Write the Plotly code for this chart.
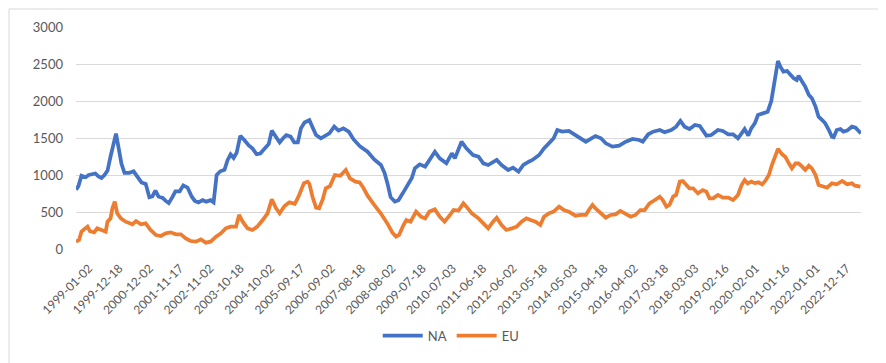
import numpy as np
import pandas as pd
import plotly.graph_objects as go

START = "1999-01-02"

# Week offsets (from 1999-01-02) and values
na_weeks = [0, 4, 9, 16, 21, 27, 32, 37, 42, 47, 52, 57, 62, 66, 70, 75, 80, 88, 95, 101,
            108, 115, 121, 126, 131, 136, 143, 148, 153, 159, 164, 171, 177, 184, 191, 196, 202, 209, 215, 222,
            227, 232, 238, 245, 250, 255, 260, 265, 271, 278, 285, 291, 298, 304, 311, 318, 323, 329, 336, 342,
            347, 354, 360, 366, 371, 377, 385, 390, 396, 404, 410, 418, 426, 433, 441, 450, 458, 469, 481, 492,
            503, 509, 514, 519, 526, 532, 539, 547, 554, 559, 567, 576, 584, 592, 600, 611, 620, 625, 636, 644,
            655, 664, 672, 680, 694, 702, 713, 721, 730, 738, 747, 753, 764, 772, 780, 788, 794, 802, 813, 824,
            833, 841, 849, 857, 866, 874, 885, 896, 907, 918, 929, 935, 944, 952, 963, 971, 982, 990, 997, 1004,
            1012, 1021, 1029, 1040, 1048, 1059, 1067, 1076, 1084, 1092, 1098, 1103, 1109, 1114, 1120, 1125, 1133, 1141, 1147, 1152,
            1155, 1158, 1162, 1167, 1173, 1179, 1184, 1189, 1192, 1198, 1203, 1209, 1214, 1220, 1225, 1231, 1236, 1242, 1247, 1250,
            1255, 1261, 1266, 1272, 1280, 1286, 1291, 1295]
na_values = [800, 850, 990, 970, 1000, 1010, 1020, 980, 960, 1000, 1060, 1250, 1420, 1560, 1380, 1150, 1030, 1030, 1050, 980,
             900, 880, 700, 710, 790, 710, 690, 650, 620, 700, 780, 780, 860, 830, 707, 650, 630, 660, 640, 660,
             630, 1000, 1050, 1070, 1200, 1280, 1230, 1300, 1530, 1470, 1400, 1360, 1280, 1290, 1360, 1420, 1600, 1520, 1440, 1500,
             1540, 1520, 1440, 1440, 1630, 1710, 1743, 1650, 1540, 1495, 1530, 1563, 1653, 1600, 1630, 1586, 1480, 1383, 1315, 1210,
             1135, 1030, 880, 700, 640, 660, 752, 870, 960, 1090, 1144, 1113, 1225, 1315, 1225, 1158, 1293, 1225, 1450, 1360,
             1270, 1248, 1158, 1135, 1203, 1135, 1068, 1099, 1045, 1135, 1180, 1203, 1270, 1360, 1428, 1496, 1608, 1586, 1595, 1540,
             1496, 1450, 1487, 1527, 1496, 1428, 1383, 1397, 1450, 1487, 1473, 1450, 1550, 1586, 1608, 1577, 1608, 1653, 1730, 1653,
             1622, 1676, 1662, 1532, 1540, 1608, 1595, 1550, 1550, 1496, 1563, 1622, 1532, 1630, 1700, 1811, 1833, 1856, 2000, 2280,
             2441, 2540, 2464, 2397, 2406, 2352, 2307, 2284, 2343, 2261, 2194, 2081, 2036, 1924, 1788, 1743, 1698, 1608, 1518, 1510,
             1608, 1622, 1586, 1600, 1653, 1640, 1595, 1563]

eu_weeks = [0, 5, 9, 16, 19, 23, 30, 35, 41, 49, 52, 57, 60, 64, 68, 74, 82, 93, 99, 107,
            115, 123, 132, 140, 148, 156, 165, 173, 181, 189, 198, 206, 214, 222, 231, 239, 247, 255, 264, 269,
            275, 283, 291, 299, 308, 316, 323, 330, 336, 344, 352, 361, 367, 371, 376, 382, 385, 390, 396, 401,
            407, 412, 419, 427, 436, 445, 452, 461, 468, 473, 481, 492, 503, 514, 522, 528, 533, 540, 545, 552,
            561, 569, 576, 583, 592, 600, 608, 617, 623, 631, 639, 644, 653, 664, 672, 680, 688, 694, 702, 710,
            719, 727, 735, 743, 750, 758, 766, 772, 780, 788, 797, 805, 813, 824, 833, 841, 846, 852, 857, 866,
            874, 882, 890, 898, 907, 915, 923, 931, 938, 946, 955, 963, 968, 974, 979, 985, 990, 996, 1001, 1007,
            1012, 1018, 1026, 1034, 1040, 1045, 1051, 1059, 1067, 1076, 1084, 1092, 1098, 1103, 1108, 1114, 1120, 1126, 1132, 1137,
            1143, 1148, 1154, 1158, 1165, 1170, 1176, 1181, 1187, 1192, 1198, 1203, 1209, 1214, 1220, 1225, 1234, 1239, 1247, 1255,
            1264, 1272, 1280, 1285, 1294]
eu_values = [99, 122, 234, 279, 302, 240, 225, 279, 257, 234, 369, 414, 550, 640, 482, 414, 369, 333, 378, 333,
             347, 257, 189, 176, 212, 225, 198, 198, 144, 108, 99, 131, 86, 99, 167, 212, 279, 302, 302, 460,
             369, 279, 257, 302, 392, 482, 670, 550, 482, 580, 630, 610, 707, 797, 890, 910, 880, 710, 560, 550,
             670, 820, 850, 1000, 990, 1068, 955, 910, 900, 842, 720, 595, 480, 340, 220, 167, 189, 320, 392, 369,
             505, 437, 414, 505, 535, 437, 369, 460, 527, 520, 617, 572, 482, 414, 347, 279, 369, 423, 324, 257,
             279, 302, 369, 414, 392, 369, 324, 437, 482, 505, 572, 527, 505, 450, 460, 460, 527, 595, 550, 482,
             423, 460, 468, 514, 468, 437, 460, 527, 527, 617, 662, 707, 662, 572, 595, 707, 730, 910, 919, 865,
             820, 820, 752, 797, 775, 685, 685, 730, 694, 694, 662, 730, 865, 932, 887, 910, 890, 901, 874, 919,
             1000, 1135, 1270, 1352, 1279, 1248, 1158, 1090, 1158, 1158, 1113, 1068, 1126, 1090, 1000, 865, 842, 829, 887, 874,
             919, 874, 887, 856, 842]

tick_labels = ["1999-01-02", "1999-12-18", "2000-12-02", "2001-11-17", "2002-11-02", "2003-10-18",
               "2004-10-02", "2005-09-17", "2006-09-02", "2007-08-18", "2008-08-02", "2009-07-18",
               "2010-07-03", "2011-06-18", "2012-06-02", "2013-05-18", "2014-05-03", "2015-04-18",
               "2016-04-02", "2017-03-18", "2018-03-03", "2019-02-16", "2020-02-01", "2021-01-16",
               "2022-01-01", "2022-12-17"]
y_ticks = [0, 500, 1000, 1500, 2000, 2500, 3000]
LAST_WEEK = 1295

start = pd.Timestamp(START)
na_x = start + pd.to_timedelta(np.array(na_weeks) * 7, unit="D")
eu_x = start + pd.to_timedelta(np.array(eu_weeks) * 7, unit="D")
x_end = start + pd.Timedelta(days=LAST_WEEK * 7)

W, H = 886, 363
ML, MR, MT, MB = 68, 33, 19, 122
PW, PH = W - ML - MR, H - MT - MB

# rotated labels in the original hang from the category point by their top-right
# corner; shift plotly's label anchor by ~13 px worth of time to match
label_shift = pd.Timedelta(days=round(13 * LAST_WEEK * 7 / PW))
tick_pos = [pd.Timestamp(t) + label_shift for t in tick_labels]

fig = go.Figure()
fig.add_trace(go.Scatter(x=na_x, y=na_values, mode="lines", name="NA",
                         line=dict(color="#4472C4", width=3.75)))
fig.add_trace(go.Scatter(x=eu_x, y=eu_values, mode="lines", name="EU",
                         line=dict(color="#ED7D31", width=3.75)))

FONT = "Lato, Open Sans, sans-serif"

fig.update_layout(
    width=W, height=H,
    margin=dict(l=ML, r=MR, t=MT, b=MB),
    paper_bgcolor="white", plot_bgcolor="white",
    font=dict(family=FONT, size=13, color="#595959"),
    showlegend=True,
    legend=dict(orientation="h", x=0.478, xanchor="center", y=-0.39, yanchor="middle",
                font=dict(family=FONT, size=13, color="#595959"),
                itemwidth=40, traceorder="normal"),
    xaxis=dict(type="date", range=[start, x_end], tickmode="array",
               tickvals=tick_pos, ticktext=tick_labels, tickangle=-45,
               showgrid=False, zeroline=False, showline=False, ticks="",
               ticklabelstandoff=9,
               tickfont=dict(family=FONT, size=12, color="#595959")),
    yaxis=dict(range=[0, 3000], tickvals=y_ticks, showgrid=True, gridcolor="#D9D9D9",
               gridwidth=1, zeroline=False, showline=False, ticks="",
               ticklabelstandoff=12,
               tickfont=dict(family=FONT, size=13, color="#595959")),
    shapes=[dict(type="rect", xref="paper", yref="paper",
                 x0=-(ML - 1) / PW, x1=1 + (MR - 1.5) / PW,
                 y0=-(MB - 1.5) / PH, y1=1 + (MT - 1) / PH,
                 line=dict(color="#D9D9D9", width=1), fillcolor="rgba(0,0,0,0)", layer="below")],
)

fig.write_html("out.html")
